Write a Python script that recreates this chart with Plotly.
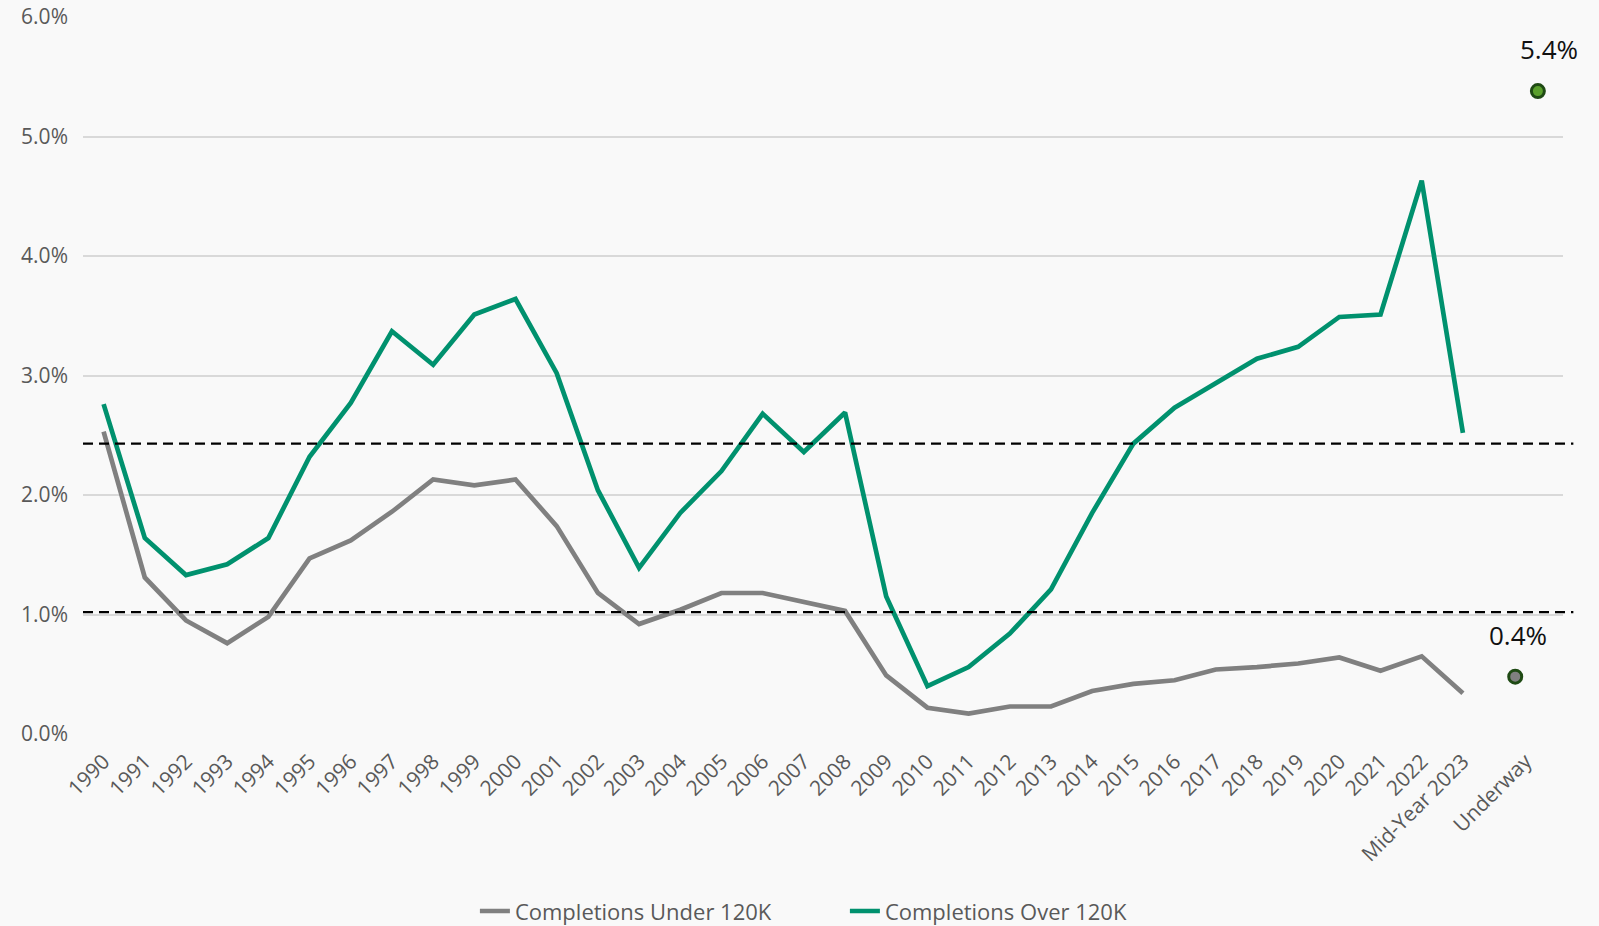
import plotly.graph_objects as go

# ---- data ----
years = [str(y) for y in range(1990, 2023)]
categories = years + ["Mid-Year 2023", "Underway"]

under_120k = [2.53, 1.31, 0.95, 0.76, 0.98, 1.47, 1.62, 1.86, 2.13, 2.08,
              2.13, 1.74, 1.18, 0.92, 1.04, 1.18, 1.18, 1.11, 1.03, 0.49,
              0.22, 0.17, 0.23, 0.23, 0.36, 0.42, 0.45, 0.54, 0.56, 0.59,
              0.64, 0.53, 0.65, 0.34]
over_120k = [2.76, 1.64, 1.33, 1.42, 1.64, 2.32, 2.77, 3.37, 3.09, 3.51,
             3.64, 3.02, 2.04, 1.39, 1.85, 2.20, 2.68, 2.36, 2.69, 1.15,
             0.40, 0.56, 0.84, 1.21, 1.85, 2.43, 2.73, 2.93, 3.14, 3.24,
             3.49, 3.51, 4.63, 2.52]

underway_values = [0.48, 5.38]          # under 120K, over 120K
underway_labels = ["0.4%", "5.4%"]
averages = [2.43, 1.02]                 # dashed reference lines

# ---- styling ----
GREEN = "#00916E"
GRAY = "#808080"
TICK_COLOR = "#595959"
FONT = "Open Sans"

n_cat = len(categories)
idx = list(range(n_cat))
line_x = idx[:len(under_120k)]
underway_shift = 0.52            # label placement of the "Underway" group
marker_offsets = [-0.25, 0.3]    # small horizontal separation of the two dots
label_xshift = [3, 11]           # pixel nudges of the value labels
tick_pos = idx[:-1] + [idx[-1] + underway_shift]
uw_x = [idx[-1] + underway_shift + o for o in marker_offsets]
x_range = [-0.5, (n_cat - 1) + 1.43]   # one extra slot of room on the right

fig = go.Figure()

fig.add_trace(go.Scatter(
    x=line_x, y=under_120k, mode="lines", name="Completions Under 120K",
    line=dict(color=GRAY, width=4.7), hoverinfo="skip"))
fig.add_trace(go.Scatter(
    x=line_x, y=over_120k, mode="lines", name="Completions Over 120K",
    line=dict(color=GREEN, width=4.7), hoverinfo="skip"))

fig.add_trace(go.Scatter(
    x=uw_x, y=underway_values, mode="markers", showlegend=False,
    marker=dict(size=13, color=[GRAY, "#5AA02C"],
                line=dict(color="#1F4A14", width=3)),
    cliponaxis=False, hoverinfo="skip"))

for xv, yv, lab, xs in zip(uw_x, underway_values, underway_labels, label_xshift):
    fig.add_annotation(x=xv, y=yv, text=lab, showarrow=False,
                       xshift=xs, yshift=42,
                       font=dict(family=FONT, size=26, color="#111111"))

for a in averages:
    fig.add_shape(type="line", xref="paper", yref="y", x0=0, x1=1.007,
                  y0=a, y1=a, layer="above",
                  line=dict(color="black", width=2.3, dash="10px,6px"))

fig.update_layout(
    width=1599, height=926,
    margin=dict(l=83, r=36, t=17, b=192),
    paper_bgcolor="#F9F9F9", plot_bgcolor="#F9F9F9",
    font=dict(family=FONT, color=TICK_COLOR),
    showlegend=True,
    legend=dict(orientation="h", xref="container", yref="container",
                x=0.297, xanchor="left", y=0.016, yanchor="middle",
                entrywidth=325, entrywidthmode="pixels",
                font=dict(family=FONT, size=22, color=TICK_COLOR),
                bgcolor="rgba(0,0,0,0)"),
    xaxis=dict(range=x_range, tickmode="array",
               tickvals=tick_pos, ticktext=categories, tickangle=-45,
               showgrid=False, zeroline=False, showline=False,
               tickfont=dict(family=FONT, size=21, color=TICK_COLOR),
               ticklabelstandoff=10, automargin=False),
    yaxis=dict(range=[0, 6], dtick=1, tickformat=".1f", ticksuffix="%",
               showgrid=True, gridcolor="#D9D9D9", gridwidth=1.5,
               zeroline=False, showline=False,
               tickfont=dict(family=FONT, size=21, color=TICK_COLOR),
               ticklabelstandoff=14, automargin=False),
)

fig.write_html("out.html", config={"displayModeBar": False},
               post_script="document.body.style.margin='0';document.body.style.overflow='hidden';")
